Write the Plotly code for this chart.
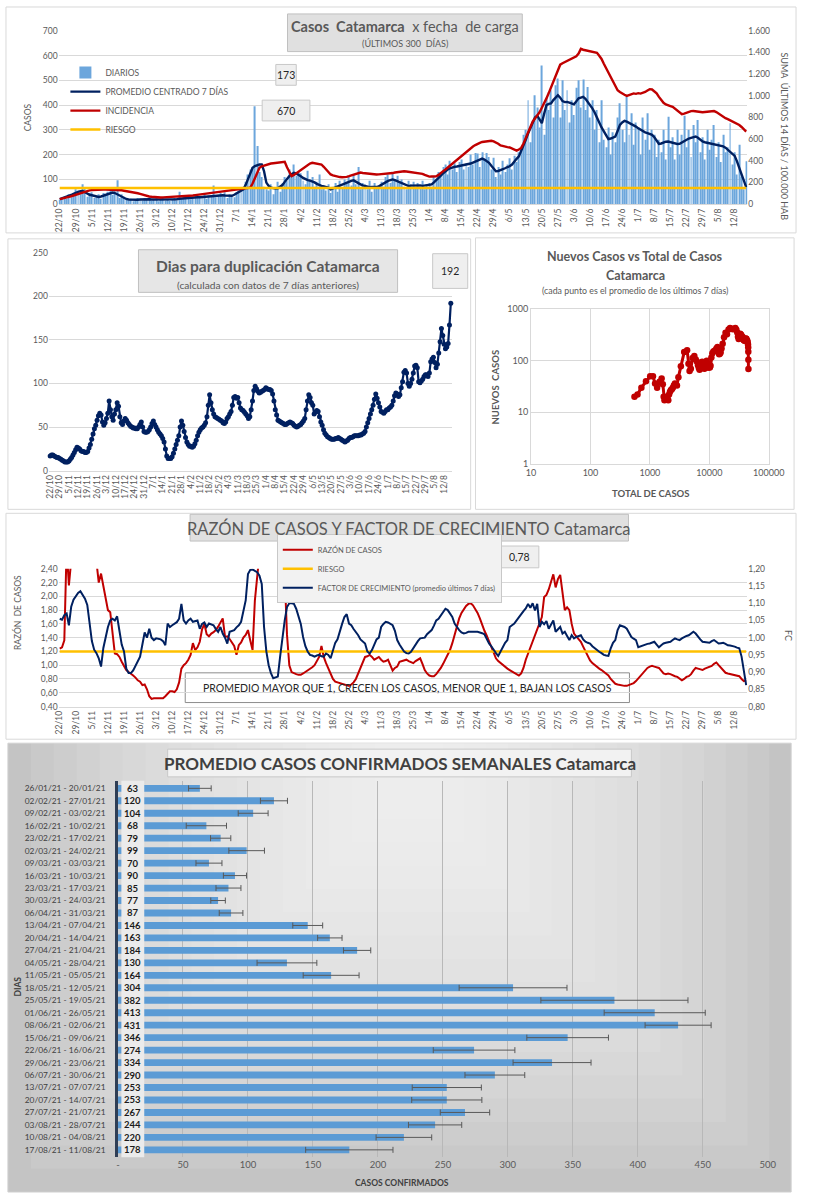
import plotly.graph_objects as go
import pandas as pd

W, H = 813, 1200
FONT = "Lato, Noto Sans, sans-serif"


def px(x):
    return x / W


def py(y):
    return 1 - y / H


# ---------------- DATA ----------------
FECHAS = pd.date_range("2020-10-22", "2021-08-17", freq="D")
DIAS = [f"{d.day}/{d.month}" for d in FECHAS]

TICK_LABELS = ["22/10", "29/10", "5/11", "12/11", "19/11", "26/11", "3/12", "10/12", "17/12",
               "24/12", "31/12", "7/1", "14/1", "21/1", "28/1", "4/2", "11/2", "18/2", "25/2",
               "4/3", "11/3", "18/3", "25/3", "1/4", "8/4", "15/4", "22/4", "29/4", "6/5",
               "13/5", "20/5", "27/5", "3/6", "10/6", "17/6", "24/6", "1/7", "8/7", "15/7",
               "22/7", "29/7", "5/8", "12/8"]

DIARIOS = [
    18, 25, 30, 22, 40, 28, 45,
    60, 55, 40, 80, 62, 30, 45,
    48, 25, 30, 40, 22, 45, 33,
    50, 55, 38, 60, 97, 25, 40,
    30, 20, 15, 22, 12, 18, 25,
    22, 15, 25, 18, 28, 14, 20,
    24, 12, 20, 26, 15, 18, 14,
    20, 25, 15, 50, 22, 30, 28,
    35, 20, 30, 38, 25, 32, 28,
    40, 22, 35, 30, 75, 28, 38,
    45, 30, 48, 25, 40, 35, 28,
    48, 55, 60, 70, 90, 120, 140,
    150, 395, 235, 130, 110, 70, 60,
    55, 80, 40, 60, 90, 50, 85,
    110, 95, 140, 120, 160, 115, 130,
    125, 95, 80, 135, 100, 110, 70,
    90, 120, 60, 75, 55, 80, 45,
    70, 85, 50, 95, 65, 100, 90,
    110, 75, 120, 80, 150, 60, 85,
    80, 60, 95, 50, 85, 70, 75,
    90, 70, 110, 120, 85, 130, 100,
    115, 85, 100, 70, 60, 95, 80,
    90, 65, 85, 70, 95, 60, 80,
    85, 70, 110, 100, 130, 120, 150,
    160, 120, 175, 140, 165, 130, 170,
    180, 140, 165, 150, 200, 160, 207,
    205, 150, 210, 180, 207, 190, 140,
    187, 110, 150, 120, 175, 130, 160,
    185, 140, 195, 170, 210, 230, 280,
    300, 420, 250, 330, 440, 390, 310,
    560, 280, 430, 380, 460, 350, 480,
    507, 350, 500, 380, 460, 330, 420,
    360, 470, 500, 390, 503, 380, 473,
    350, 420, 300, 380, 250, 420, 260,
    230, 310, 200, 290, 250, 350, 407,
    300, 250, 433, 280, 367, 240, 330,
    310, 200, 350, 260, 367, 220, 300,
    280, 190, 260, 210, 300, 180, 353,
    230, 270, 180, 300, 200, 280, 357,
    230, 300, 190, 320, 250, 340, 210,
    270, 180, 300, 220, 260, 320, 190,
    250, 170, 280, 210, 230, 327, 160,
    210, 120, 240, 110, 60, 173]

PROMEDIO = [
    20, 23, 26, 30, 33, 37, 42,
    47, 50, 52, 53, 48, 42, 38,
    36, 34, 31, 29, 31, 34, 37,
    41, 44, 47, 45, 40, 35, 30,
    24, 21, 19, 18, 17, 17, 18,
    19, 20, 20, 19, 20, 19, 19,
    19, 18, 18, 19, 18, 17, 17,
    18, 19, 20, 22, 23, 24, 25,
    26, 27, 26, 27, 28, 28, 29,
    29, 30, 29, 31, 33, 34, 36,
    37, 36, 35, 34, 33, 34, 38,
    43, 48, 53, 60, 78, 100, 125,
    147, 154, 158, 160, 160, 133, 87,
    74, 67, 64, 63, 64, 70, 77,
    90, 102, 113, 121, 127, 124, 120,
    113, 106, 100, 97, 95, 93, 88,
    82, 77, 74, 72, 70, 67, 60,
    64, 68, 71, 73, 77, 82, 87,
    91, 94, 96, 90, 84, 80, 76,
    73, 71, 69, 70, 69, 69, 72,
    78, 84, 91, 94, 97, 100, 97,
    93, 89, 84, 79, 74, 73, 75,
    76, 77, 75, 76, 74, 75, 75,
    78, 80, 88, 96, 104, 115, 125,
    133, 140, 145, 149, 151, 152, 154,
    155, 156, 157, 160, 164, 168, 172,
    176, 180, 184, 180, 173, 167, 155,
    145, 133, 134, 137, 140, 145, 150,
    153, 160, 173, 183, 193, 213, 240,
    260, 285, 307, 330, 350, 357, 340,
    327, 365, 400, 405, 407, 420, 432,
    440, 430, 416, 412, 413, 410, 405,
    403, 415, 427, 430, 433, 425, 413,
    400, 387, 370, 353, 330, 310, 293,
    280, 263, 265, 270, 273, 295, 320,
    330, 336, 333, 328, 324, 320, 313,
    306, 300, 293, 290, 287, 284, 280,
    270, 258, 243, 245, 250, 252, 253,
    250, 248, 245, 243, 244, 250, 255,
    260, 265, 268, 271, 273, 268, 260,
    253, 250, 248, 247, 246, 244, 241,
    238, 235, 233, 228, 220, 213, 207,
    195, 173, 150, 120, 95, 69]

INCIDENCIA = [
    46, 50, 56, 62, 68, 73, 80,
    88, 96, 104, 112, 120, 124, 127,
    130, 132, 134, 135, 135, 136, 135,
    134, 136, 137, 135, 135, 132, 128,
    124, 121, 117, 113, 109, 105, 101,
    95, 88, 82, 75, 71, 68, 65,
    63, 62, 62, 63, 64, 65, 66,
    66, 66, 66, 67, 70, 72, 74,
    75, 77, 80, 83, 86, 88, 91,
    93, 96, 99, 102, 105, 107, 110,
    113, 116, 120, 121, 124, 127, 130,
    132, 134, 137, 140, 144, 148, 153,
    190, 245, 290, 336, 350, 358, 366,
    370, 375, 378, 381, 383, 386, 389,
    391, 340, 304, 258, 270, 285, 304,
    320, 335, 350, 365, 375, 382, 378,
    374, 370, 366, 345, 320, 295, 274,
    265, 258, 252, 250, 249, 249, 252,
    258, 265, 272, 280, 290, 292, 288,
    285, 282, 280, 278, 276, 274, 275,
    276, 278, 279, 281, 283, 287, 292,
    296, 300, 302, 304, 302, 299, 296,
    294, 292, 290, 288, 280, 270, 260,
    254, 255, 256, 258, 270, 290, 305,
    320, 338, 355, 372, 390, 408, 427,
    445, 462, 480, 500, 519, 532, 545,
    558, 566, 574, 578, 581, 584, 585,
    580, 570, 558, 542, 535, 530, 526,
    523, 513, 503, 494, 505, 519, 560,
    610, 660, 710, 761, 790, 820, 848,
    890, 930, 976, 1025, 1075, 1127, 1180,
    1235, 1287, 1300, 1310, 1322, 1335, 1346,
    1355, 1365, 1390, 1433, 1425, 1420, 1417,
    1412, 1405, 1400, 1397, 1370, 1340, 1296,
    1255, 1215, 1173, 1130, 1090, 1051, 1035,
    1020, 1010, 999, 1005, 1012, 1022, 1018,
    1024, 1020, 1026, 1035, 1048, 1061, 1058,
    1040, 1022, 990, 960, 935, 920, 910,
    905, 898, 880, 860, 840, 830, 835,
    845, 852, 859, 860, 856, 852, 848,
    848, 850, 852, 855, 857, 859, 850,
    835, 820, 805, 793, 785, 775, 765,
    757, 745, 730, 712, 690, 670]

RIESGO_INCIDENCIA = 150

DUPLICACION = [
    17, 18, 18, 17, 16, 15, 15,
    14, 13, 12, 11, 10, 10, 10,
    11, 13, 15, 18, 21, 24, 27,
    26, 25, 23, 22, 22, 21, 21,
    22, 26, 30, 36, 42, 48, 52,
    58, 63, 66, 64, 56, 52, 55,
    60, 66, 80, 70, 62, 58, 65,
    70, 78, 74, 62, 55, 53, 57,
    60, 58, 55, 53, 51, 50, 49,
    49, 48, 48, 50, 53, 56, 50,
    45, 44, 44, 45, 47, 50, 54,
    57, 53, 50, 47, 44, 42, 40,
    37, 33, 25, 17, 14, 14, 14,
    16, 20, 25, 30, 35, 40, 50,
    57, 52, 45, 38, 33, 30, 28,
    28, 27, 28, 31, 35, 40, 44,
    47, 49, 50, 52, 55, 62, 75,
    87, 78, 70, 65, 62, 61, 60,
    59, 58, 57, 55, 54, 56, 60,
    62, 65, 68, 75, 84, 85, 83,
    84, 78, 72, 70, 69, 67, 65,
    63, 60, 62, 70, 80, 92, 97,
    94, 91, 89, 90, 91, 92, 93,
    95, 94, 93, 93, 92, 88, 80,
    70, 64, 58, 57, 56, 55, 54,
    53, 53, 54, 55, 56, 55, 54,
    52, 51, 50, 51, 52, 53, 55,
    57, 60, 70, 80, 87, 84, 78,
    75, 65, 67, 69, 68, 62, 56,
    52, 47, 43, 41, 39, 38, 37,
    36, 36, 36, 37, 37, 38, 37,
    36, 35, 34, 33, 34, 35, 37,
    38, 38, 39, 40, 40, 40, 40,
    41, 41, 42, 43, 45, 50, 55,
    60, 65, 70, 75, 82, 88, 83,
    78, 73, 68, 67, 66, 68, 70,
    70, 72, 73, 75, 80, 86, 89,
    88, 85, 87, 95, 102, 113, 115,
    112, 100, 97, 100, 105, 112, 120,
    121, 118, 102, 101, 103, 105, 108,
    110, 110, 108, 112, 125, 128, 130,
    124, 118, 122, 135, 148, 163, 155,
    145, 140, 142, 146, 167, 192]

SCATTER_TOTAL = [550, 619, 719, 858, 1011, 1127, 1221, 1323, 1455, 1575, 1650, 1704, 1758,
                 1817, 1875, 1930, 1984, 2038, 2103, 2178, 2258, 2343, 2431, 2529, 2638, 2740,
                 2855, 3016, 3319, 3778, 4231, 4459, 4650, 4887, 5223, 5594, 5913, 6198, 6445,
                 6661, 6852, 7064, 7310, 7591, 7845, 8065, 8273, 8492, 8761, 9055, 9321, 9547,
                 9775, 10000, 10228, 10492, 10836, 11254, 11706, 12171, 12652, 13168, 13712,
                 14207, 14619, 15041, 15504, 16053, 16766, 17688, 18735, 19827, 21059, 22361,
                 23602, 24820, 26092, 27363, 28520, 29513, 30349, 31157, 32102, 33099, 34056,
                 34955, 35816, 36624, 37362, 38117, 38853, 39602, 40395, 41207, 41970, 42711,
                 43434, 44130, 44770, 45118, 45288, 45408, 45503]
SCATTER_NUEVOS = [20, 22, 30, 40, 50, 50, 36, 30, 39, 45, 35, 20, 17,
                  19, 20, 19, 18, 17, 22, 25, 27, 28, 30, 33, 36, 34,
                  33, 48, 78, 147, 160, 87, 63, 70, 113, 124, 106, 95, 82,
                  72, 67, 71, 82, 96, 84, 73, 70, 72, 91, 100, 89, 74,
                  75, 75, 74, 80, 115, 140, 151, 155, 160, 172, 184,
                  167, 133, 137, 145, 173, 213, 285, 350, 327, 405, 432,
                  416, 410, 415, 433, 400, 353, 293, 265, 273, 333, 324,
                  306, 290, 284, 258, 250, 248, 244, 260, 271, 268, 250,
                  247, 228, 207, 180, 150, 105, 69]

RAZON = [
    1.24, 1.26, 1.36, 2.70, 2.16, 2.90, 3.20,
    3.50, 3.60, 3.40, 3.30, 3.10, 2.90, 2.80,
    2.70, 2.60, 2.50, 2.20, 2.33, 2.15, 1.95,
    1.80, 1.77, 1.45, 1.17, 1.16, 1.12, 1.05,
    0.98, 0.93, 0.90, 0.88, 0.85, 0.82, 0.78,
    0.76, 0.71, 0.72, 0.65, 0.55, 0.51, 0.52,
    0.52, 0.53, 0.52, 0.52, 0.55, 0.58, 0.62,
    0.62, 0.61, 0.65, 0.75, 0.95, 1.00, 1.03,
    1.08, 1.15, 1.32, 1.22, 1.26, 1.34, 1.52,
    1.60, 1.45, 1.42, 1.46, 1.48, 1.51, 1.56,
    1.62, 1.68, 1.41, 1.42, 1.38, 1.33, 1.28,
    1.15, 1.29, 1.33, 1.40, 1.44, 1.51, 1.36,
    1.22, 1.94, 2.37, 2.90, 3.30, 3.60, 3.90,
    4.20, 4.30, 4.20, 3.90, 3.50, 3.10, 2.70,
    2.30, 1.44, 1.00, 0.90, 0.88, 0.87, 0.86,
    0.86, 0.88, 0.90, 0.92, 0.94, 0.97, 1.00,
    1.06, 1.12, 1.28, 1.12, 1.03, 0.95, 0.86,
    0.80, 0.76, 0.75, 0.73, 0.72, 0.71, 0.71,
    0.70, 0.72, 0.75, 0.80, 0.88, 0.98, 1.05,
    1.12, 1.13, 1.15, 1.12, 1.08, 1.10, 1.12,
    1.08, 1.05, 1.06, 1.08, 1.00, 0.92, 0.96,
    0.98, 1.05, 1.06, 1.07, 1.08, 1.06, 1.04,
    1.03, 1.06, 1.08, 1.10, 1.02, 0.93, 0.88,
    0.85, 0.84, 0.84, 0.87, 0.91, 0.96, 1.02,
    1.08, 1.15, 1.22, 1.32, 1.44, 1.55, 1.68,
    1.76, 1.82, 1.86, 1.89, 1.90, 1.87, 1.82,
    1.76, 1.68, 1.58, 1.50, 1.43, 1.35, 1.26,
    1.18, 1.10, 1.06, 1.03, 1.00, 0.98, 0.95,
    0.93, 0.91, 0.89, 0.87, 0.85, 0.88, 0.96,
    1.08, 1.17, 1.26, 1.36, 1.44, 1.52, 1.60,
    1.70, 1.99, 2.02, 2.10, 2.23, 2.32, 2.13,
    2.25, 2.31, 2.04, 1.80, 1.84, 1.80, 1.60,
    1.46, 1.42, 1.38, 1.34, 1.27, 1.20, 1.12,
    1.07, 1.03, 1.00, 0.97, 0.95, 0.93, 0.90,
    0.88, 0.85, 0.80, 0.76, 0.73, 0.72, 0.71,
    0.71, 0.70, 0.70, 0.71, 0.72, 0.74, 0.77,
    0.81, 0.84, 0.88, 0.93, 0.96, 0.98, 0.99,
    0.98, 0.97, 0.96, 0.92, 0.88, 0.87, 0.88,
    0.87, 0.85, 0.84, 0.83, 0.81, 0.78, 0.80,
    0.83, 0.84, 0.87, 0.92, 0.96, 0.95, 0.94,
    0.93, 0.95, 0.96, 0.97, 0.99, 1.02, 1.04,
    1.00, 0.96, 0.92, 0.89, 0.88, 0.87, 0.87,
    0.86, 0.85, 0.84, 0.80, 0.77, 0.78]

RIESGO_RAZON = 1.2

FACTOR = [
    1.055, 1.052, 1.065, 1.070, 1.036, 1.090, 1.110,
    1.122, 1.130, 1.135, 1.125, 1.113, 1.095, 1.040,
    0.990, 0.965, 0.955, 0.940, 0.916, 0.970, 1.000,
    1.031, 1.050, 1.055, 1.050, 1.062, 1.020, 0.980,
    0.960, 0.910, 0.897, 0.897, 0.905, 0.920, 0.935,
    0.945, 0.980, 1.015, 1.000, 1.026, 1.000, 0.993,
    0.998, 0.996, 0.995, 0.990, 0.978, 1.041, 1.031,
    1.036, 1.041, 1.045, 1.055, 1.098, 1.050, 1.041,
    1.050, 1.055, 1.046, 1.048, 1.050, 1.026, 1.040,
    1.044, 1.031, 1.041, 1.038, 1.036, 1.025, 1.017,
    1.031, 1.012, 1.000, 0.983, 1.017, 1.020, 1.022,
    1.030, 1.036, 1.046, 1.080, 1.108, 1.185, 1.197,
    1.198, 1.194, 1.190, 1.180, 1.156, 1.031, 0.960,
    0.920, 0.897, 0.882, 0.885, 0.887, 0.945, 1.000,
    1.050, 1.089, 1.100, 1.100, 1.098, 1.084, 1.060,
    1.040, 1.002, 0.975, 0.960, 0.950, 0.948, 0.945,
    0.948, 0.950, 0.946, 0.945, 0.954, 0.950, 0.940,
    0.965, 0.985, 0.995, 1.022, 1.040, 1.060, 1.068,
    1.041, 1.036, 1.025, 1.017, 1.007, 0.995, 0.988,
    0.983, 0.960, 0.954, 0.964, 0.980, 0.995, 1.000,
    1.031, 1.040, 1.046, 1.044, 1.041, 1.036, 1.020,
    0.993, 0.980, 0.969, 0.960, 0.955, 0.954, 0.959,
    0.970, 0.983, 0.990, 0.998, 0.999, 1.000, 1.010,
    1.017, 1.022, 1.035, 1.050, 1.055, 1.065, 1.075,
    1.084, 1.080, 1.070, 1.060, 1.041, 1.030, 1.022,
    1.015, 1.012, 1.014, 1.017, 1.017, 1.018, 1.017,
    1.017, 1.016, 1.013, 1.010, 0.995, 0.983, 0.975,
    0.964, 0.955, 0.947, 0.960, 0.974, 0.985, 0.993,
    1.031, 1.036, 1.041, 1.050, 1.060, 1.070, 1.077,
    1.085, 1.098, 1.087, 1.100, 1.079, 1.098, 1.031,
    1.046, 1.039, 1.048, 1.026, 1.040, 1.050, 1.017,
    1.025, 1.031, 1.012, 1.017, 1.005, 0.993, 1.007,
    0.998, 1.002, 1.005, 1.007, 0.995, 0.988, 0.985,
    0.983, 0.975, 0.969, 0.965, 0.959, 0.955, 0.950,
    0.948, 0.947, 0.969, 0.985, 0.993, 1.022, 1.036,
    1.034, 1.031, 1.026, 1.012, 1.002, 0.997, 0.993,
    0.972, 0.975, 0.978, 0.980, 0.982, 0.983, 0.985,
    0.988, 0.980, 0.972, 0.978, 0.983, 0.985, 0.986,
    0.988, 0.993, 0.998, 0.995, 0.993, 0.998, 1.002,
    1.005, 1.007, 1.012, 1.017, 1.012, 1.002, 0.995,
    0.988, 0.987, 0.986, 0.985, 0.990, 0.993, 0.988,
    0.983, 0.984, 0.985, 0.982, 0.978, 0.977, 0.976,
    0.974, 0.971, 0.969, 0.945, 0.900, 0.862]

SEMANAS = ["26/01/21 - 20/01/21", "02/02/21 - 27/01/21", "09/02/21 - 03/02/21",
           "16/02/21 - 10/02/21", "23/02/21 - 17/02/21", "02/03/21 - 24/02/21",
           "09/03/21 - 03/03/21", "16/03/21 - 10/03/21", "23/03/21 - 17/03/21",
           "30/03/21 - 24/03/21", "06/04/21 - 31/03/21", "13/04/21 - 07/04/21",
           "20/04/21 - 14/04/21", "27/04/21 - 21/04/21", "04/05/21 - 28/04/21",
           "11/05/21 - 05/05/21", "18/05/21 - 12/05/21", "25/05/21 - 19/05/21",
           "01/06/21 - 26/05/21", "08/06/21 - 02/06/21", "15/06/21 - 09/06/21",
           "22/06/21 - 16/06/21", "29/06/21 - 23/06/21", "06/07/21 - 30/06/21",
           "13/07/21 - 07/07/21", "20/07/21 - 14/07/21", "27/07/21 - 21/07/21",
           "03/08/21 - 28/07/21", "10/08/21 - 04/08/21", "17/08/21 - 11/08/21"]
PROMEDIO_SEMANAL = [63, 120, 104, 68, 79, 99, 70, 90, 85, 77, 87, 146, 163, 184, 130,
                    164, 304, 382, 413, 431, 346, 274, 334, 290, 253, 253, 267, 244, 220, 178]
DESVIO_SEMANAL = [8.7, 10.4, 11.5, 15.5, 7.8, 13.7, 10.0, 8.9, 9.6, 5.6, 9.1, 11.5, 9.4, 10.5,
                  23.0, 21.5, 41.5, 56.6, 38.9, 25.4, 31.4, 31.4, 30.0, 23.0, 26.6, 27.0, 19.0,
                  20.5, 21.4, 33.6]
X5_TICKS = [0, 50, 100, 150, 200, 250, 300, 350, 400, 450, 500]
X5_LABELS = ["-", "50", "100", "150", "200", "250", "300", "350", "400", "450", "500"]
LOG_X_TICKS = [10, 100, 1000, 10000, 100000]
LOG_X_LABELS = ["10", "100", "1000", "10000", "100000"]
LOG_Y_TICKS = [1, 10, 100, 1000]
LOG_Y_LABELS = ["1", "10", "100", "1000"]

# ---------------- COLORS ----------------
BLUE = "#5B9BD5"
NAVY = "#002060"
RED = "#C00000"
YELLOW = "#FFC000"
GRID = "#D9D9D9"
TXT = "#595959"

fig = go.Figure()

# Panel 1
fig.add_trace(go.Bar(x=DIAS, y=DIARIOS, name="DIARIOS", marker_color="#6CA6DC", width=0.42,
                     marker_line_width=0, xaxis="x", yaxis="y", legend="legend"))
fig.add_trace(go.Scatter(x=DIAS, y=PROMEDIO, name="PROMEDIO CENTRADO 7 DÍAS", mode="lines",
                         line=dict(color=NAVY, width=2.4), xaxis="x", yaxis="y", legend="legend"))
fig.add_trace(go.Scatter(x=DIAS, y=INCIDENCIA, name="INCIDENCIA", mode="lines",
                         line=dict(color=RED, width=2.4), xaxis="x", yaxis="y6", legend="legend"))
fig.add_trace(go.Scatter(x=DIAS, y=[RIESGO_INCIDENCIA] * len(DIAS), name="RIESGO", mode="lines",
                         line=dict(color=YELLOW, width=2.5), xaxis="x", yaxis="y6", legend="legend"))

# Panel 2
fig.add_trace(go.Scatter(x=DIAS, y=DUPLICACION, mode="lines+markers", showlegend=False,
                         line=dict(color=NAVY, width=2.2), marker=dict(color=NAVY, size=5),
                         cliponaxis=False, xaxis="x2", yaxis="y2"))

# Panel 3
fig.add_trace(go.Scatter(x=SCATTER_TOTAL, y=SCATTER_NUEVOS, mode="lines+markers", showlegend=False,
                         line=dict(color=RED, width=3), marker=dict(color=RED, size=6.5),
                         xaxis="x3", yaxis="y3"))

# Panel 4
fig.add_trace(go.Scatter(x=DIAS, y=RAZON, name="RAZÓN DE CASOS", mode="lines",
                         line=dict(color=RED, width=2), xaxis="x4", yaxis="y4", legend="legend2"))
fig.add_trace(go.Scatter(x=DIAS, y=[RIESGO_RAZON] * len(DIAS), name="RIESGO", mode="lines",
                         line=dict(color=YELLOW, width=2.5), xaxis="x4", yaxis="y4", legend="legend2"))
fig.add_trace(go.Scatter(x=DIAS, y=FACTOR, name="FACTOR DE CRECIMIENTO (promedio últimos 7 días)",
                         mode="lines", line=dict(color=NAVY, width=2), xaxis="x4", yaxis="y7",
                         legend="legend2"))

# Panel 5
fig.add_trace(go.Bar(x=PROMEDIO_SEMANAL, y=SEMANAS, orientation="h", marker_color=BLUE, width=0.55,
                     marker_line_width=0, showlegend=False,
                     error_x=dict(type="data", array=DESVIO_SEMANAL, color="#595959", thickness=1, width=3),
                     xaxis="x5", yaxis="y5"))

tickf = dict(family=FONT, size=8.5, color=TXT)

date_axis = dict(type="category", tickmode="array", tickvals=TICK_LABELS, ticktext=TICK_LABELS,
                 tickangle=-90, tickfont=tickf, showgrid=False, showline=True, linecolor=GRID,
                 ticks="", zeroline=False, range=[-0.5, len(DIAS) - 0.5])

layout = dict(
    width=W, height=H, autosize=False, margin=dict(l=0, r=0, t=0, b=0),
    paper_bgcolor="white", plot_bgcolor="rgba(0,0,0,0)", separators=",.",
    font=dict(family=FONT, color=TXT),
    xaxis=dict(date_axis, domain=[px(55), px(762)], anchor="y"),
    yaxis=dict(domain=[py(200), py(25)], range=[0, 700], dtick=100, tickfont=tickf,
               gridcolor=GRID, gridwidth=0.8, zeroline=False, anchor="x"),
    yaxis6=dict(overlaying="y", side="right", anchor="x", range=[0, 1600], dtick=200,
                tickformat=",d", tickfont=tickf, showgrid=False, zeroline=False),
    xaxis2=dict(date_axis, domain=[px(45), px(459)], anchor="y2", range=[-1, len(DIAS)]),
    yaxis2=dict(domain=[py(469), py(249)], range=[0, 250], dtick=50, tickfont=tickf,
                gridcolor=GRID, gridwidth=0.8, zeroline=False, anchor="x2"),
    xaxis3=dict(type="log", domain=[px(540), px(784)], range=[1, 5], anchor="y3",
                tickmode="array", tickvals=LOG_X_TICKS, ticktext=LOG_X_LABELS,
                tickfont=dict(family=FONT, size=9, color=TXT), gridcolor=GRID,
                showline=True, linecolor=GRID, mirror=True, ticks="", zeroline=False),
    yaxis3=dict(type="log", domain=[py(462), py(306)], range=[0, 3], anchor="x3",
                tickmode="array", tickvals=LOG_Y_TICKS, ticktext=LOG_Y_LABELS,
                tickfont=dict(family=FONT, size=9, color=TXT), gridcolor=GRID,
                showline=True, linecolor=GRID, mirror=True, ticks="", zeroline=False),
    xaxis4=dict(date_axis, domain=[px(55), px(762)], anchor="y4"),
    yaxis4=dict(domain=[py(707), py(568)], range=[0.4, 2.4], dtick=0.2, tickformat=".2f",
                tickfont=tickf, gridcolor=GRID, gridwidth=0.8, zeroline=False, anchor="x4"),
    yaxis7=dict(overlaying="y4", side="right", anchor="x4", range=[0.8, 1.2], dtick=0.05,
                tickformat=".2f", tickfont=tickf, showgrid=False, zeroline=False),
    xaxis5=dict(domain=[px(116), px(783)], range=[0, 500], anchor="y5", tickmode="array",
                tickvals=X5_TICKS, ticktext=X5_LABELS,
                tickfont=dict(family=FONT, size=9.5, color=TXT), gridcolor="#B8B8B8",
                gridwidth=1, zeroline=False, showline=False),
    yaxis5=dict(domain=[py(1162), py(782)], type="category", autorange="reversed", anchor="x5",
                tickfont=dict(family=FONT, size=8.4, color="#404040"), showgrid=False,
                showline=True, linecolor="#2F3E55", linewidth=2.5, ticks="", ticklabelstandoff=8),
    legend=dict(x=px(62), y=py(96), xanchor="left", yanchor="middle", bgcolor="rgba(0,0,0,0)",
                font=dict(family=FONT, size=8.5, color=TXT), itemwidth=30, tracegroupgap=0),
    legend2=dict(x=px(279), y=py(568), xanchor="left", yanchor="middle", bgcolor="#F2F2F2",
                 bordercolor="#C8C8C8", borderwidth=1,
                 font=dict(family=FONT, size=7.5, color=TXT), itemwidth=30, tracegroupgap=0),
    showlegend=True,
)

shapes = []
annotations = []


def rect(x0, y0, x1, y1, fill="rgba(0,0,0,0)", line=GRID, lw=1, layer="below"):
    shapes.append(dict(type="rect", xref="paper", yref="paper", x0=px(x0), x1=px(x1),
                       y0=py(y1), y1=py(y0), fillcolor=fill,
                       line=dict(color=line, width=lw), layer=layer))


def text(x, y, s, size, color=TXT, angle=0, xanchor="center", yanchor="middle"):
    annotations.append(dict(xref="paper", yref="paper", x=px(x), y=py(y), text=s,
                            showarrow=False, textangle=angle, xanchor=xanchor, yanchor=yanchor,
                            font=dict(family=FONT, size=size, color=color)))


# Panel borders
rect(1, 1, 812, 229)
rect(3, 235, 478, 508)
rect(483, 234, 810, 508)
rect(1, 512, 812, 740)

# Panel 5 gradient background
rect(3, 744, 807, 1197, fill="#C4C4C4", line="#D0D0D0")
N = 16
for i in range(1, N + 1):
    f = i / (N + 1)
    rect(3 + f * 400, 744, 807 - f * 380, 1197 - f * 400,
         fill="rgba(255,255,255,0.085)", line="rgba(0,0,0,0)", lw=0)

# Panel 1 texts
rect(290, 8, 531, 46, fill="#E0E0E0", line="#C0C0C0", layer="above")
text(411, 21, "<b>Casos  Catamarca</b>  x fecha  de carga", 14.5)
text(411, 38, "(ÚLTIMOS 300  DÍAS)", 9)
rect(278, 59, 299, 80, fill="#EFEFEF", line="#C8C8C8", layer="above")
text(288.5, 69.5, f"{DIARIOS[-1]}", 10.5, color="#262626")
rect(264, 95, 313, 116, fill="#EFEFEF", line="#C8C8C8", layer="above")
text(288.5, 105.5, f"{INCIDENCIA[-1]}", 10.5, color="#262626")
text(24, 112, "CASOS", 8.5, angle=-90)
text(800, 132, "SUMA  ÚLTIMOS 14 DÍAS / 100.000 HAB", 9, angle=90)

# Panel 2 texts
rect(137, 246, 403, 289, fill="#E6E6E6", line="#C0C0C0", layer="above")
text(270, 262, "<b>Dias para duplicación Catamarca</b>", 15.5)
text(270, 281.5, "(calculada con datos de 7 días anteriores)", 10.2)
rect(439, 250, 475, 285, fill="#EFEFEF", line="#C8C8C8", layer="above")
text(457, 267.5, f"{DUPLICACION[-1]}", 10.5, color="#262626")

# Panel 3 texts
text(647, 253, "<b>Nuevos Casos vs Total de Casos</b>", 12.5)
text(647, 271.5, "<b>Catamarca</b>", 12.5)
text(647, 287, "(cada punto es el promedio de los últimos 7 días)", 8.8)
text(503, 385, "<b>NUEVOS  CASOS</b>", 9.5, angle=-90)
text(663, 492, "<b>TOTAL DE CASOS</b>", 9.5)

# Panel 4 texts
rect(190, 513, 640, 540, fill="#E0E0E0", line="#C0C0C0", layer="above")
text(415, 527, "RAZÓN DE CASOS Y FACTOR DE CRECIMIENTO Catamarca", 16.5)
rect(509, 545, 548, 567, fill="#EFEFEF", line="#C8C8C8", layer="above")
text(528.5, 556, f"{RAZON[-1]:.2f}".replace(".", ","), 10.5, color="#262626")
rect(185, 673, 641, 703, fill="rgba(0,0,0,0)", line="#8C8C8C")
text(413, 688, "PROMEDIO MAYOR QUE 1, CRECEN LOS CASOS, MENOR QUE 1, BAJAN LOS CASOS", 10.5,
     color="#262626")
text(13, 612, "RAZÓN  DE CASOS", 8.5, angle=-90)
text(805, 635, "FC", 9, angle=90)

# Panel 5 texts
rect(167, 750, 643, 778, fill="#F2F2F2", line="#C8C8C8", layer="above")
text(405, 764.5, "<b>PROMEDIO CASOS CONFIRMADOS SEMANALES Catamarca</b>", 17, color="#404040")
text(13, 990, "<b>DIAS</b>", 8.5, angle=-90, color="#404040")
text(408, 1188, "<b>CASOS CONFIRMADOS</b>", 8.5, color="#404040")

# value column in panel 5
shapes.append(dict(type="rect", xref="x5", yref="y5 domain", x0=2.6, x1=20.2, y0=0, y1=1,
                   fillcolor="#EBEBEB", line=dict(width=0), layer="above"))
for sem, val in zip(SEMANAS, PROMEDIO_SEMANAL):
    annotations.append(dict(xref="x5", yref="y5", x=11.2, y=sem, text=f"<b>{val}</b>",
                            showarrow=False, xanchor="center",
                            font=dict(family=FONT, size=9.5, color="#1A1A1A")))

layout["shapes"] = shapes
layout["annotations"] = annotations
fig.update_layout(**layout)
fig.write_html("out.html", config={"displayModeBar": False},
               post_script="document.body.style.margin='0';")
